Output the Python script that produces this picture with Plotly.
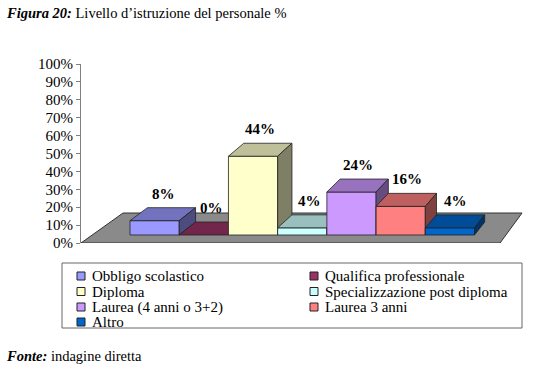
import plotly.graph_objects as go

# ---------------- data ----------------
categories = ["Obbligo scolastico", "Qualifica professionale", "Diploma",
              "Specializzazione post diploma", "Laurea (4 anni o 3+2)",
              "Laurea 3 anni", "Altro"]
values = [8, 0, 44, 4, 24, 16, 4]
value_labels = ["8%", "0%", "44%", "4%", "24%", "16%", "4%"]
colors = ["#9999FF", "#993366", "#FFFFCC", "#CCFFFF", "#CC99FF", "#FF8080", "#0066CC"]
y_tick_vals = [0, 10, 20, 30, 40, 50, 60, 70, 80, 90, 100]
y_tick_text = ["0%", "10%", "20%", "30%", "40%", "50%", "60%", "70%", "80%", "90%", "100%"]
title_bold = "Figura 20:"
title_rest = " Livello d\u2019istruzione del personale %"
source_bold = "Fonte:"
source_rest = " indagine diretta"

# ---------------- layout geometry ----------------
W, H = 550, 373
PL, PR, PT, PB = 81, 10, 64, 130          # plot area margins (px)
PW = W - PL - PR
PHT = H - PT - PB
PX_PER_PCT = PHT / 100.0
U = 49.85                                  # px per category along floor front
XMIN = -1.268                              # data x at plot left edge
XMAX = XMIN + PW / U
FLOOR_X0, FLOOR_X1 = -1.268, 7.138
DEPTH_PX_Y = 30.0
DEPTH_PCT = DEPTH_PX_Y / PX_PER_PCT
Z0, Z1 = 0.267, 0.70                       # bar depth band
FONT = "Liberation Serif, Times New Roman, serif"


def shade(hexc, f):
    hexc = hexc.lstrip("#")
    r, g, b = (int(hexc[i:i + 2], 16) for i in (0, 2, 4))
    return "#%02X%02X%02X" % (int(r * f), int(g * f), int(b * f))


def proj(xc, z, v):
    px = PL + (xc - XMIN) * U
    dx_px = z * (42 - 20 * (px - PL) / 419.0)
    return xc + dx_px / U, v + z * DEPTH_PCT


def poly(pts, fill, line="#222222", lw=0.8):
    xs = [p[0] for p in pts] + [pts[0][0]]
    ys = [p[1] for p in pts] + [pts[0][1]]
    return go.Scatter(x=xs, y=ys, mode="lines", fill="toself", fillcolor=fill,
                      line=dict(color=line, width=lw), hoverinfo="skip",
                      showlegend=False)


fig = go.Figure()

# floor
fig.add_trace(poly([proj(FLOOR_X0, 0, 0), proj(FLOOR_X1, 0, 0),
                    proj(FLOOR_X1, 1, 0), proj(FLOOR_X0, 1, 0)],
                   "#8A8A8A", line="#333333", lw=1))

annotations = []
for i, (v, c, lab) in enumerate(zip(values, colors, value_labels)):
    xl, xr = i - 0.5, i + 0.5
    front = [proj(xl, Z0, 0), proj(xr, Z0, 0), proj(xr, Z0, v), proj(xl, Z0, v)]
    top = [proj(xl, Z0, v), proj(xr, Z0, v), proj(xr, Z1, v), proj(xl, Z1, v)]
    side = [proj(xr, Z0, 0), proj(xr, Z1, 0), proj(xr, Z1, v), proj(xr, Z0, v)]
    if v > 0:
        fig.add_trace(poly(front, c))
    fig.add_trace(poly(top, shade(c, 0.75)))
    if v > 0:
        fig.add_trace(poly(side, shade(c, 0.5)))
    lx, _ = proj(i, (Z0 + Z1) / 2, v)
    _, ly = proj(i, Z1, v)
    annotations.append(dict(x=lx, y=ly, xref="x", yref="y", text="<b>%s</b>" % lab,
                            showarrow=False, yshift=14,
                            font=dict(family=FONT, size=15, color="black")))


def pxx(px):
    return (px - PL) / PW


def pxy(py):
    return (H - PB - py) / PHT


shapes = []
# legend box
shapes.append(dict(type="rect", xref="paper", yref="paper",
                   x0=pxx(62), x1=pxx(522), y0=pxy(328), y1=pxy(263),
                   line=dict(color="#666666", width=1), fillcolor="white", layer="above"))
col_x = [77, 310]
row_y = [276, 291.5, 307, 322]
for k, (name, c) in enumerate(zip(categories, colors)):
    col = k % 2
    row = k // 2
    mx, my = col_x[col], row_y[row]
    shapes.append(dict(type="rect", xref="paper", yref="paper",
                       x0=pxx(mx), x1=pxx(mx + 8), y0=pxy(my + 4), y1=pxy(my - 4),
                       line=dict(color="#222222", width=1), fillcolor=c, layer="above"))
    annotations.append(dict(x=pxx(mx + 13), y=pxy(my), xref="paper", yref="paper",
                            xanchor="left", yanchor="middle", text=name,
                            showarrow=False,
                            font=dict(family=FONT, size=15, color="black")))

annotations.append(dict(x=pxx(4), y=pxy(13), xref="paper", yref="paper",
                        xanchor="left", yanchor="middle", showarrow=False,
                        text="<b><i>%s</i></b>%s" % (title_bold, title_rest),
                        font=dict(family=FONT, size=14.5, color="black")))
annotations.append(dict(x=pxx(4), y=pxy(356), xref="paper", yref="paper",
                        xanchor="left", yanchor="middle", showarrow=False,
                        text="<b><i>%s</i></b>%s" % (source_bold, source_rest),
                        font=dict(family=FONT, size=14.5, color="black")))

fig.update_layout(
    width=W, height=H,
    margin=dict(l=PL, r=PR, t=PT, b=PB),
    paper_bgcolor="white", plot_bgcolor="white",
    showlegend=False,
    xaxis=dict(range=[XMIN, XMAX], visible=False, fixedrange=True),
    yaxis=dict(range=[0, 100], tickvals=y_tick_vals, ticktext=y_tick_text,
               showgrid=False, zeroline=False, showline=True, linecolor="#808080",
               linewidth=1, ticks="outside", ticklen=4, tickcolor="#808080",
               tickfont=dict(family=FONT, size=15, color="black"), fixedrange=True),
    shapes=shapes, annotations=annotations,
)

fig.write_html("out.html", config={"displayModeBar": False},
               post_script="document.body.style.margin='0px';document.body.style.padding='0px';")
